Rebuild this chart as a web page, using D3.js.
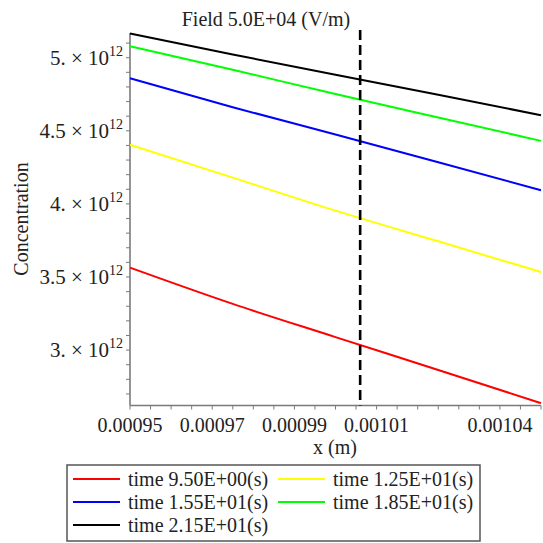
<!DOCTYPE html>
<html><head><meta charset="utf-8">
<script src="https://cdn.jsdelivr.net/npm/d3@7"></script>
<style>
html,body{margin:0;padding:0;background:#fff;}
text{font-family:"Liberation Serif","Times New Roman",serif;fill:#222;}
</style></head>
<body>
<svg id="chart" width="543" height="543"></svg>
<script>
// ---- data ----
const xValues = [0.00095, 0.000975, 0.001, 0.001025, 0.00105];
const seriesNames = ["time 9.50E+00(s)", "time 1.25E+01(s)", "time 1.55E+01(s)", "time 1.85E+01(s)", "time 2.15E+01(s)"];
const seriesColors = ["#ff0000", "#ffff00", "#0000ff", "#00ff00", "#000000"];
const red    = [3.564e12, 3.316e12, 3.089e12, 2.864e12, 2.637e12];
const yellow = [4.405e12, 4.180e12, 3.954e12, 3.744e12, 3.534e12];
const blue   = [4.860e12, 4.661e12, 4.475e12, 4.285e12, 4.093e12];
const green  = [5.079e12, 4.917e12, 4.752e12, 4.591e12, 4.431e12];
const black  = [5.165e12, 5.022e12, 4.883e12, 4.746e12, 4.607e12];
const seriesValues = [red, yellow, blue, green, black];
const xTickValues = [0.00095, 0.00097, 0.00099, 0.00101, 0.00104];
const xTickLabels = ["0.00095", "0.00097", "0.00099", "0.00101", "0.00104"];
const yTickValues = [3e12, 3.5e12, 4e12, 4.5e12, 5e12];
const yTickMantissa = ["3.", "3.5", "4.", "4.5", "5."];
const fieldX = 0.001006;
const titleText = "Field 5.0E+04 (V/m)";
const xLabel = "x (m)";
const yLabel = "Concentration";

// ---- layout ----
const svg = d3.select("#chart");
const x = d3.scaleLinear().domain([0.00095, 0.00105]).range([130, 541]);
const y = d3.scaleLinear().domain([2.621e12, 5.169e12]).range([405.5, 33]);
const axisColor = "#7a7a7a";

// minor ticks
const xMinor = d3.range(0, 21).map(i => 0.00095 + i * 0.000005);
const yMinor = d3.range(27, 52).map(i => i * 1e11);

const xAxis = svg.append("g").attr("transform", "translate(0,405.5)");
xAxis.append("line").attr("x1", x.range()[0]).attr("x2", x.range()[1])
  .attr("stroke", axisColor).attr("stroke-width", 1.6);
xAxis.selectAll(".mt").data(xMinor).join("line")
  .attr("x1", d => x(d)).attr("x2", d => x(d)).attr("y1", 0).attr("y2", 4)
  .attr("stroke", axisColor).attr("stroke-width", 1);
xAxis.selectAll(".lbl").data(xTickValues).join("text")
  .attr("x", d => x(d)).attr("y", 26).attr("text-anchor", "middle")
  .attr("font-size", 20).text((d, i) => xTickLabels[i]);

const yAxis = svg.append("g").attr("transform", "translate(130,0)");
yAxis.append("line").attr("y1", y.range()[0]).attr("y2", y.range()[1])
  .attr("stroke", axisColor).attr("stroke-width", 1.6);
yAxis.selectAll(".mt").data(yMinor.filter(d => d >= y.domain()[0] && d <= y.domain()[1])).join("line")
  .attr("y1", d => y(d)).attr("y2", d => y(d)).attr("x1", 0).attr("x2", -4)
  .attr("stroke", axisColor).attr("stroke-width", 1);
const yl = yAxis.selectAll(".lbl").data(yTickValues).join("text")
  .attr("x", -7).attr("y", d => y(d) + 7).attr("text-anchor", "end").attr("font-size", 21);
yl.append("tspan").text((d, i) => yTickMantissa[i] + " \u00d7 10");
yl.append("tspan").attr("font-size", 14).attr("dy", -9).text("12");

// series lines
const line = d3.line().x((d, i) => x(xValues[i])).y(d => y(d)).curve(d3.curveMonotoneX);
svg.append("g").selectAll("path").data(seriesValues).join("path")
  .attr("d", d => line(d)).attr("fill", "none")
  .attr("stroke", (d, i) => seriesColors[i]).attr("stroke-width", 2);

// dashed field line
svg.append("line").attr("x1", x(fieldX)).attr("x2", x(fieldX))
  .attr("y1", 30).attr("y2", 405.5).attr("stroke", "#000")
  .attr("stroke-width", 2.6).attr("stroke-dasharray", "10,5");

// titles
svg.append("text").attr("x", 266).attr("y", 26).attr("text-anchor", "middle")
  .attr("font-size", 20).text(titleText);
svg.append("text").attr("x", 335).attr("y", 454).attr("text-anchor", "middle")
  .attr("font-size", 20).text(xLabel);
svg.append("text").attr("transform", "translate(28,219) rotate(-90)")
  .attr("text-anchor", "middle").attr("font-size", 20).text(yLabel);

// legend
const lg = svg.append("g");
lg.append("rect").attr("x", 67).attr("y", 465).attr("width", 413).attr("height", 76)
  .attr("fill", "#fff").attr("stroke", "#555").attr("stroke-width", 1.5);
const legendPos = [[73, 479], [278, 479], [73, 502], [278, 502], [73, 525]];
seriesNames.forEach((name, i) => {
  const [lx, ly] = legendPos[i];
  lg.append("line").attr("x1", lx).attr("x2", lx + 47).attr("y1", ly).attr("y2", ly)
    .attr("stroke", seriesColors[i]).attr("stroke-width", 2);
  lg.append("text").attr("x", lx + 55).attr("y", ly + 7).attr("font-size", 20).text(name);
});
</script>
</body></html>
